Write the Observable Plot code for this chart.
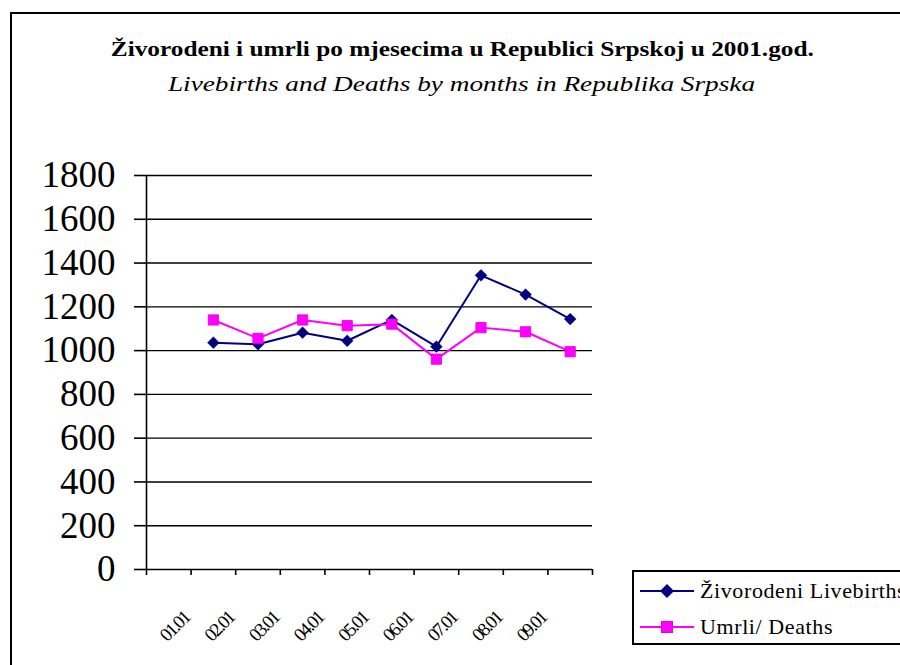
<!DOCTYPE html>
<html>
<head>
<meta charset="utf-8">
<script src="https://cdn.jsdelivr.net/npm/d3@7"></script>
<script src="https://cdn.jsdelivr.net/npm/@observablehq/plot@0.6"></script>
<style>
  html, body { margin: 0; padding: 0; background: #fff; overflow: hidden; }
  #wrap { position: relative; width: 900px; height: 665px; overflow: hidden; font-family: "Liberation Serif", "Times New Roman", serif; }
  #frame { position: absolute; left: 10px; top: 12px; width: 1000px; height: 800px; border: 2px solid #000; box-sizing: border-box; }
  .ttl { position: absolute; left: 0; width: 924px; text-align: center; color: #000; white-space: nowrap; }
  #title { top: 36px; font-weight: bold; font-size: 22px; transform: scaleX(1.15); transform-origin: 460px 0; }
  #subtitle { top: 71px; font-style: italic; font-size: 22px; transform: scaleX(1.24); transform-origin: 464px 0; }
  #chart { position: absolute; left: 0; top: 0; }
  #chart text { font-family: "Liberation Serif", "Times New Roman", serif; }
  #chart .xlab text { letter-spacing: -1.9px; }
  #legend { position: absolute; left: 632px; top: 570px; width: 400px; height: 75px; border: 2px solid #000; box-sizing: border-box; background: #fff; }
  .item { position: absolute; left: 6px; height: 26px; display: flex; align-items: center; font-size: 22px; letter-spacing: 0.6px; white-space: nowrap; }
  .item svg { margin-right: 6px; flex: none; }
</style>
</head>
<body>
<div id="wrap">
  <div id="frame"></div>
  <div id="title" class="ttl">Živorodeni i umrli po mjesecima u Republici Srpskoj u 2001.god.</div>
  <div id="subtitle" class="ttl">Livebirths and Deaths by months in Republika Srpska</div>
  <div id="chart"></div>
  <div id="legend"></div>
</div>
<script>
const months = ["01.01", "02.01", "03.01", "04.01", "05.01", "06.01", "07.01", "08.01", "09.01"];
const livebirths = [1036, 1029, 1082, 1045, 1140, 1018, 1344, 1256, 1144];
const deaths = [1140, 1056, 1140, 1114, 1121, 961, 1105, 1086, 995];
const yTicks = [0, 200, 400, 600, 800, 1000, 1200, 1400, 1600, 1800];
const seriesNames = ["Živorodeni Livebirths", "Umrli/ Deaths"];
const seriesColors = ["#000080", "#ff00ff"];

// category slots: label slot i, data plotted one slot to the right (as in reference)
const slots = d3.range(months.length + 2);
const rows = months.flatMap((m, i) => [
  {slot: i + 1.5, value: livebirths[i], series: seriesNames[0]},
  {slot: i + 1.5, value: deaths[i], series: seriesNames[1]}
]);
const labelRows = months.map((m, i) => ({slot: i + 0.5, label: m}));

const font = '"Liberation Serif", "Times New Roman", serif';
const chart = Plot.plot({
  width: 900,
  height: 665,
  marginLeft: 146,
  marginRight: 308,
  marginTop: 175,
  marginBottom: 96,
  style: {fontFamily: font, background: "transparent", overflow: "visible"},
  x: {type: "linear", domain: [0, 10], axis: null},
  y: {type: "linear", domain: [0, 1800], axis: null},
  color: {domain: seriesNames, range: seriesColors},
  marks: [
    Plot.ruleY(yTicks, {stroke: "#000", strokeWidth: 1.4}),
    Plot.ruleX([0], {stroke: "#000", strokeWidth: 1.6}),
    Plot.axisY({ticks: yTicks, label: null, tickSize: 12, tickPadding: 19, fontSize: 37, stroke: "#000", strokeWidth: 1.6, color: "#000", tickFormat: d => String(d)}),
    Plot.axisX({ticks: slots, label: null, tickSize: 6, tickFormat: () => "", stroke: "#000", strokeWidth: 1.6}),
    Plot.text(labelRows, {x: "slot", y: () => 0, text: "label", rotate: -45, dy: 57, dx: 6, fontSize: 19, fill: "#000", textAnchor: "middle", className: "xlab"}),
    Plot.line(rows, {x: "slot", y: "value", z: "series", stroke: "series", strokeWidth: 2}),
    Plot.dot(rows.filter(d => d.series === seriesNames[0]), {x: "slot", y: "value", symbol: "diamond2", r: 5.3, fill: seriesColors[0], stroke: seriesColors[0], strokeWidth: 0.5}),
    Plot.dot(rows.filter(d => d.series === seriesNames[1]), {x: "slot", y: "value", symbol: "square", r: 5.8, fill: seriesColors[1], stroke: "#e000e0", strokeWidth: 0.8})
  ]
});
document.getElementById("chart").appendChild(chart);

// legend
const legend = document.getElementById("legend");
const sym = [
  '<polygon points="27,6 34,13 27,20 20,13" fill="#000080"/>',
  '<rect x="21.5" y="7.5" width="11" height="11" fill="#ff00ff" stroke="#e000e0"/>'
];
seriesNames.forEach((name, i) => {
  const div = document.createElement("div");
  div.className = "item";
  div.style.top = (i === 0 ? 6 : 42) + "px";
  div.innerHTML = `<svg width="54" height="26"><line x1="0" x2="54" y1="13" y2="13" stroke="${seriesColors[i]}" stroke-width="2"/>${sym[i]}</svg><span>${name}</span>`;
  legend.appendChild(div);
});
</script>
</body>
</html>
